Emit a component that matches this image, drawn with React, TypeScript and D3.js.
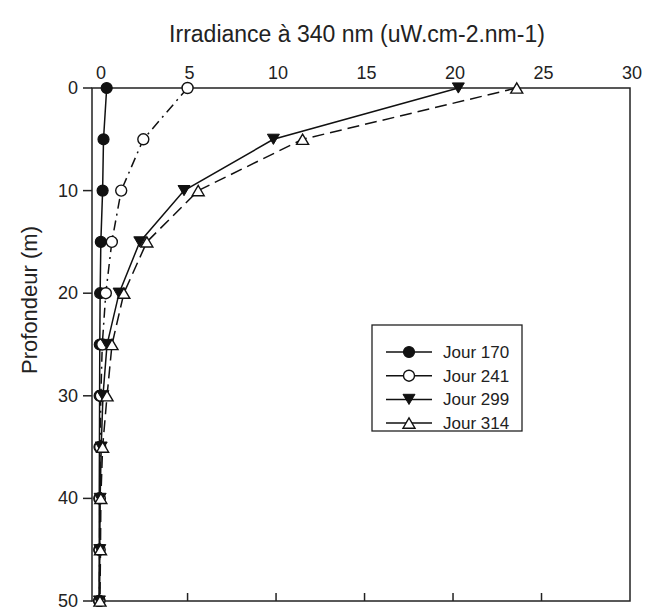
import React from "react";
import * as d3 from "d3";

const depths = [0, 5, 10, 15, 20, 25, 30, 35, 40, 45, 50];
const jour170 = [0.43, 0.25, 0.2, 0.1, 0.06, 0.04, 0.03, 0.02, 0.01, 0.01, 0.0];
const jour241 = [5.0, 2.5, 1.25, 0.72, 0.38, 0.18, 0.1, 0.06, 0.04, 0.03, 0.02];
const jour299 = [20.3, 9.85, 4.8, 2.3, 1.13, 0.45, 0.22, 0.12, 0.06, 0.04, 0.02];
const jour314 = [23.6, 11.5, 5.6, 2.7, 1.4, 0.73, 0.45, 0.2, 0.1, 0.08, 0.05];
const seriesNames = ["Jour 170", "Jour 241", "Jour 299", "Jour 314"];
const xTicks = [0, 5, 10, 15, 20, 25, 30];
const yTicks = [0, 10, 20, 30, 40, 50];
const title = "Irradiance à 340 nm (uW.cm-2.nm-1)";
const yTitle = "Profondeur (m)";

const font = "Liberation Sans, Arial, sans-serif";

type Marker = "filledCircle" | "openCircle" | "filledDown" | "openUp";
const series: { name: string; values: number[]; dash: string; marker: Marker }[] = [
  { name: seriesNames[0], values: jour170, dash: "", marker: "filledCircle" },
  { name: seriesNames[1], values: jour241, dash: "10,5,2,5", marker: "openCircle" },
  { name: seriesNames[2], values: jour299, dash: "", marker: "filledDown" },
  { name: seriesNames[3], values: jour314, dash: "12,6", marker: "openUp" },
];

function MarkerShape({ type, x, y }: { type: Marker; x: number; y: number }) {
  const stroke = "#111";
  if (type === "filledCircle") return <circle cx={x} cy={y} r={5.5} fill="#111" stroke={stroke} strokeWidth={1.2} />;
  if (type === "openCircle") return <circle cx={x} cy={y} r={5.5} fill="#fff" stroke={stroke} strokeWidth={1.4} />;
  const s = 6;
  if (type === "filledDown") {
    const pts = `${x - s},${y - s * 0.85} ${x + s},${y - s * 0.85} ${x},${y + s * 0.85}`;
    return <polygon points={pts} fill="#111" stroke={stroke} strokeWidth={1} />;
  }
  const pts = `${x - s},${y + s * 0.85} ${x + s},${y + s * 0.85} ${x},${y - s * 0.85}`;
  return <polygon points={pts} fill="#fff" stroke={stroke} strokeWidth={1.4} />;
}

export default function App() {
  const W = 646, H = 607;
  const left = 92, right = 630, top = 88, bottom = 601;
  const x = d3.scaleLinear().domain([-0.4, 30]).range([left, right]);
  const y = d3.scaleLinear().domain([0, 50]).range([top, bottom]);
  const line = d3.line<[number, number]>().x((d) => x(d[0])).y((d) => y(d[1]));

  const legX = 372, legY = 325, legW = 150, legH = 106;
  return (
    <svg width={W} height={H} style={{ position: "absolute", left: 0, top: 0, background: "#fff" }} fontFamily={font}>
      <rect width={W} height={H} fill="#fff" />
      <text x={357} y={42} textAnchor="middle" fontSize={23} fill="#222">{title}</text>
      <text transform={`translate(37,${300}) rotate(-90)`} textAnchor="middle" fontSize={22} fill="#222">{yTitle}</text>
      {/* frame */}
      <rect x={left} y={top} width={right - left} height={bottom - top} fill="none" stroke="#222" strokeWidth={1.5} />
      {/* top tick labels */}
      {xTicks.map((t) => (
        <text key={"xt" + t} x={x(t) + 2} y={79} textAnchor="middle" fontSize={18} fill="#222">{t}</text>
      ))}
      {/* bottom ticks pointing up */}
      {xTicks.slice(1, -1).map((t) => (
        <line key={"xb" + t} x1={x(t)} x2={x(t)} y1={bottom} y2={bottom - 8} stroke="#222" strokeWidth={1.5} />
      ))}
      {/* left ticks */}
      {yTicks.map((t) => (
        <g key={"yt" + t}>
          <line x1={left - 9} x2={left} y1={y(t)} y2={y(t)} stroke="#222" strokeWidth={1.5} />
          <text x={78} y={y(t) + 6} textAnchor="end" fontSize={18} fill="#222">{t}</text>
        </g>
      ))}
      {/* series */}
      {series.map((s) => (
        <path
          key={"l" + s.name}
          d={line(s.values.map((v, i) => [v, depths[i]] as [number, number])) || ""}
          fill="none"
          stroke="#111"
          strokeWidth={1.5}
          strokeDasharray={s.dash || undefined}
        />
      ))}
      {series.map((s) => (
        <g key={"m" + s.name}>
          {s.values.map((v, i) => (
            <MarkerShape key={i} type={s.marker} x={x(v)} y={y(depths[i])} />
          ))}
        </g>
      ))}
      {/* legend */}
      <rect x={legX} y={legY} width={legW} height={legH} fill="#fff" stroke="#222" strokeWidth={1.3} />
      {series.map((s, i) => {
        const ry = 352 + i * 23.7;
        return (
          <g key={"lg" + s.name}>
            <line x1={386} x2={432} y1={ry} y2={ry} stroke="#111" strokeWidth={1.5} />
            <MarkerShape type={s.marker} x={409} y={ry} />
            <text x={443} y={ry + 6} fontSize={17} fill="#222">{s.name}</text>
          </g>
        );
      })}
    </svg>
  );
}
